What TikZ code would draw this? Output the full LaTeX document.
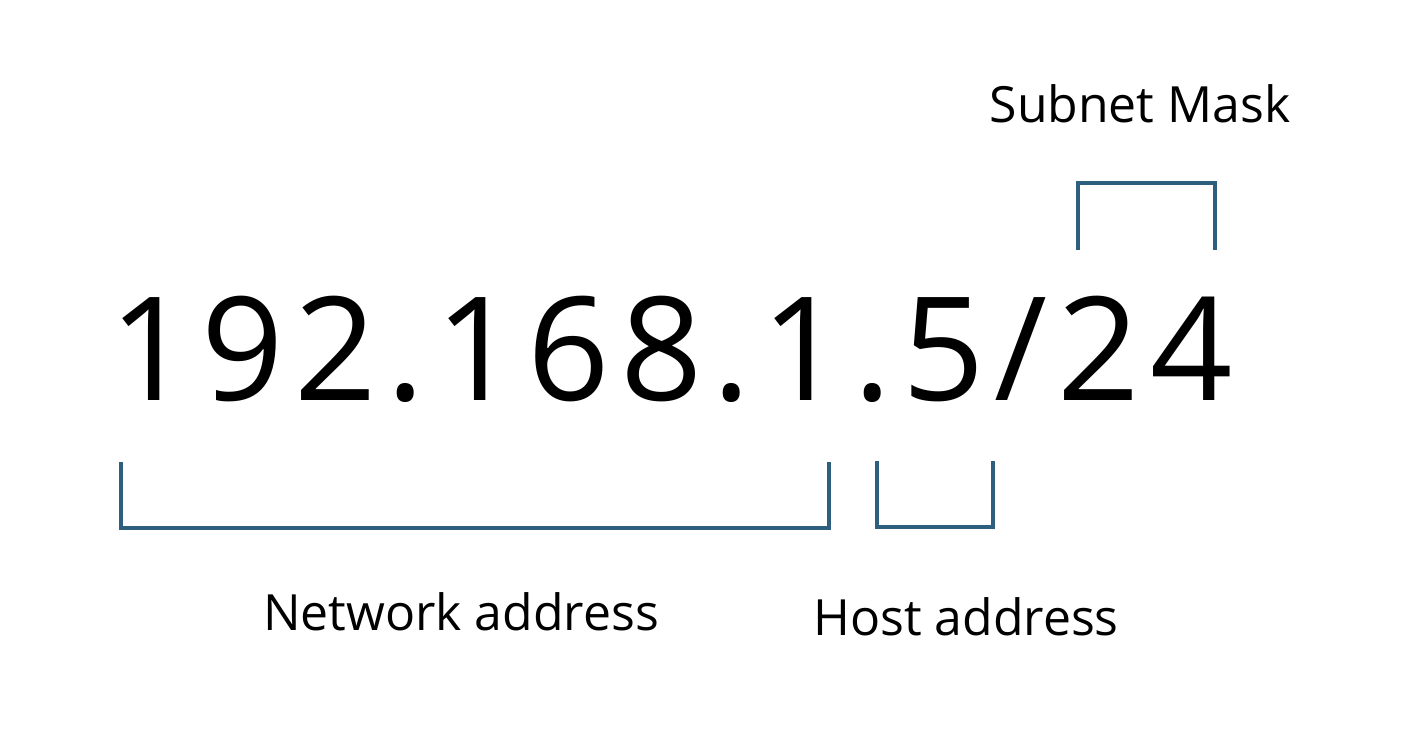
\documentclass[tikz,border=0pt]{standalone}
\usepackage{fontspec}
\setmainfont{Open Sans}
\usepackage{xcolor}
\usepackage{tikz}
\usetikzlibrary{positioning,calc}
\definecolor{ipblue}{RGB}{47,95,127}

\begin{document}
\begin{tikzpicture}[
    x=0.01cm, y=-0.01cm,
    bracket/.style={draw=ipblue, line width=1.1pt},
    addr/.style={inner sep=0pt, anchor=base, font=\fontsize{41}{48}\selectfont\addfontfeature{LetterSpace=7}},
    label/.style={inner sep=0pt, anchor=base, font=\fontsize{14.2}{17}\selectfont}
]
    \useasboundingbox (0,0) rectangle (1414,744);

    % Address
    \node[addr] (ip) at (671,400) {192.168.1.5/24};

    % Labels
    \node[label] (mask) at (1140,122) {Subnet Mask};
    \node[label] (net) at (461,630) {Network address};
    \node[label] (host) at (966,635) {Host address};

    % Brackets
    \coordinate (netA) at (121,462);
    \coordinate (netB) at (829,528);
    \coordinate (hostA) at (877,461);
    \coordinate (hostB) at (993,527);
    \coordinate (maskA) at (1078,250);
    \coordinate (maskB) at (1215,183);
    \draw[bracket] (netA) |- (netB) -- (netB |- netA);
    \draw[bracket] (hostA) |- (hostB) -- (hostB |- hostA);
    \draw[bracket] (maskA) |- (maskB) -- (maskB |- maskA);
\end{tikzpicture}
\end{document}
